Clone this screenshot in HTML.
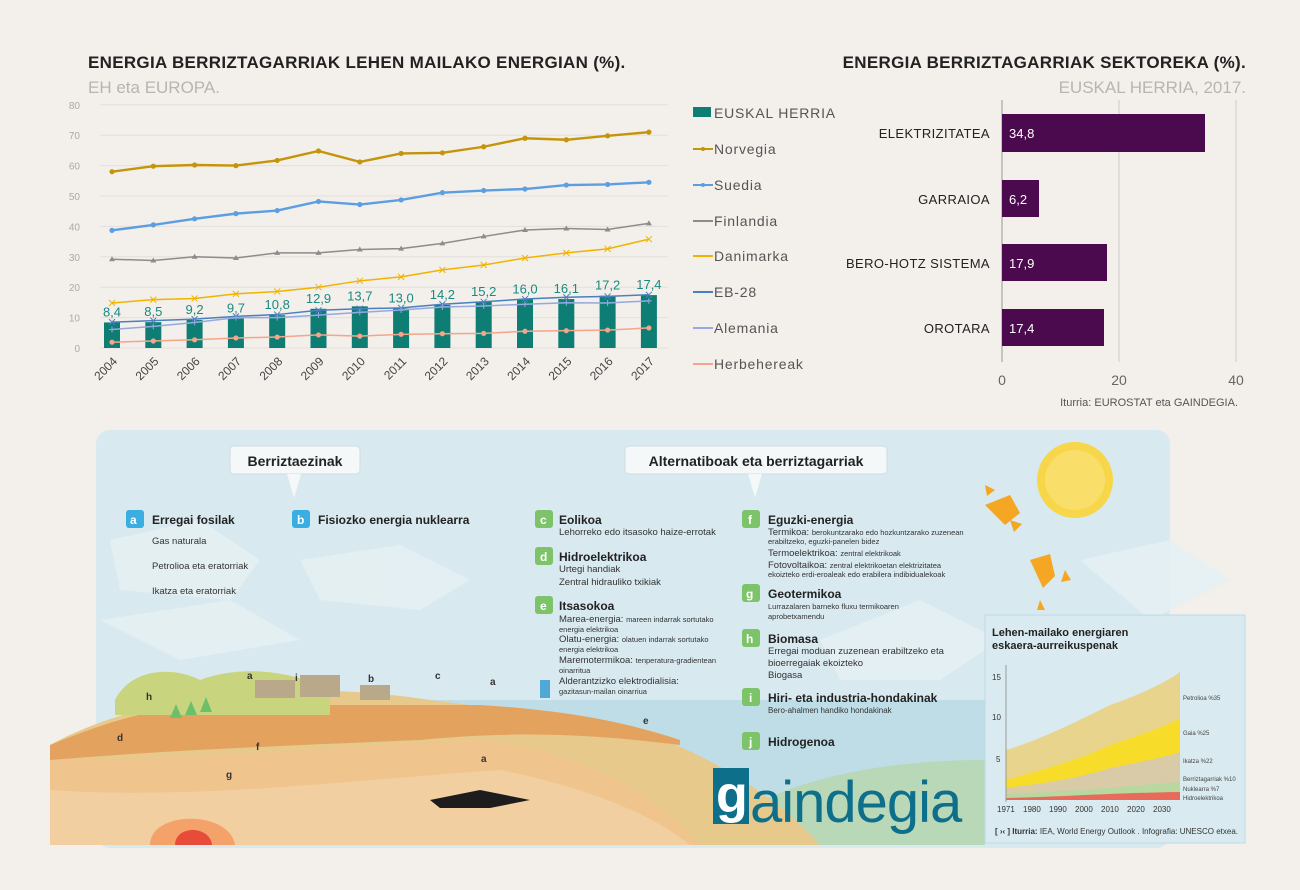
<!DOCTYPE html>
<html><head><meta charset="utf-8"><style>
html,body{margin:0;padding:0;background:#f3efeb;}
body{width:1300px;height:885px;overflow:hidden;font-family:"Liberation Sans",sans-serif;}
svg text{font-family:"Liberation Sans",sans-serif;}
</style></head><body>
<svg id="s" width="1300" height="885" viewBox="0 0 1300 885" xmlns="http://www.w3.org/2000/svg">
<rect width="1300" height="885" fill="#f3efeb"/>
<!-- titles -->
<text x="88" y="68" font-size="17" font-weight="bold" fill="#222" letter-spacing="0.3">ENERGIA BERRIZTAGARRIAK LEHEN MAILAKO ENERGIAN (%).</text>
<text x="88" y="93" font-size="17" fill="#b9b4b0">EH eta EUROPA.</text>
<text x="1246" y="68" font-size="17" font-weight="bold" fill="#222" text-anchor="end" letter-spacing="0.3">ENERGIA BERRIZTAGARRIAK SEKTOREKA (%).</text>
<text x="1246" y="93" font-size="17" fill="#b9b4b0" text-anchor="end">EUSKAL HERRIA, 2017.</text>
<g id="lc"></g>
<!-- legend -->
<g font-size="14" fill="#555" letter-spacing="0.8">
<rect x="693" y="107" width="18" height="10" fill="#0e7d74"/><text x="714" y="118">EUSKAL HERRIA</text>
<line x1="693" y1="149" x2="713" y2="149" stroke="#c4940a" stroke-width="2"/><circle cx="703" cy="149" r="2" fill="#c4940a"/><text x="714" y="154">Norvegia</text>
<line x1="693" y1="185" x2="713" y2="185" stroke="#5c9ee0" stroke-width="2"/><circle cx="703" cy="185" r="2" fill="#5c9ee0"/><text x="714" y="190">Suedia</text>
<line x1="693" y1="221" x2="713" y2="221" stroke="#8c8c8c" stroke-width="2"/><text x="714" y="226">Finlandia</text>
<line x1="693" y1="256" x2="713" y2="256" stroke="#f0b400" stroke-width="2"/><text x="714" y="261">Danimarka</text>
<line x1="693" y1="292" x2="713" y2="292" stroke="#4a7fc0" stroke-width="2"/><text x="714" y="297">EB-28</text>
<line x1="693" y1="328" x2="713" y2="328" stroke="#93a9e0" stroke-width="2"/><text x="714" y="333">Alemania</text>
<line x1="693" y1="364" x2="713" y2="364" stroke="#f4a58a" stroke-width="2"/><text x="714" y="369">Herbehereak</text>
</g>
<!-- right bar chart -->
<line x1="1002" y1="100" x2="1002" y2="362" stroke="#999" stroke-width="1"/>
<line x1="1119" y1="100" x2="1119" y2="362" stroke="#ccc" stroke-width="1"/>
<line x1="1236" y1="100" x2="1236" y2="362" stroke="#ccc" stroke-width="1"/>
<g fill="#4b0a4d">
<rect x="1002" y="114" width="203" height="38"/>
<rect x="1002" y="180" width="37" height="37"/>
<rect x="1002" y="244" width="105" height="37"/>
<rect x="1002" y="309" width="102" height="37"/>
</g>
<g font-size="13" fill="#fff"><text x="1009" y="138">34,8</text><text x="1009" y="204">6,2</text><text x="1009" y="268">17,9</text><text x="1009" y="333">17,4</text></g>
<g font-size="13" fill="#222" text-anchor="end" letter-spacing="0.4"><text x="990" y="138">ELEKTRIZITATEA</text><text x="990" y="204">GARRAIOA</text><text x="990" y="268">BERO-HOTZ SISTEMA</text><text x="990" y="333">OROTARA</text></g>
<g font-size="14" fill="#666" text-anchor="middle"><text x="1002" y="385">0</text><text x="1119" y="385">20</text><text x="1236" y="385">40</text></g>
<text x="1238" y="406" font-size="11" fill="#555" text-anchor="end">Iturria: EUROSTAT eta GAINDEGIA.</text>

<!-- bottom infographic -->
<rect x="96" y="430" width="1074" height="418" rx="14" fill="#d8e9ef"/>
<g fill="#e6f0f3" opacity="0.9">
<path d="M110 540 L200 520 L260 560 L230 600 L120 590Z"/><path d="M300 560 L400 545 L470 580 L420 610 L320 600Z"/>
<path d="M100 620 L230 600 L300 640 L180 660Z"/><path d="M820 640 L920 600 L1000 640 L940 680 L840 680Z"/>
<path d="M1080 560 L1170 540 L1230 580 L1150 620Z"/>
</g>
<!-- sea -->
<path d="M430 700 L985 700 L985 845 L430 845Z" fill="#bfdde6"/>
<!-- green land right -->
<path d="M700 845 C760 780 880 760 985 760 L985 845Z" fill="#b9d8b8"/>
<!-- land -->
<path d="M50 745 C150 690 300 680 430 700 C520 710 600 730 650 735 C720 760 780 800 820 845 L50 845Z" fill="#e7c98c"/>
<path d="M50 745 C110 720 150 710 200 705 L480 705 C560 710 620 720 680 740 L680 745 C600 735 520 730 420 740 C300 745 170 750 50 760Z" fill="#e3a35e"/>
<path d="M50 760 C200 760 360 745 470 740 C560 745 640 780 700 845 L50 845Z" fill="#f0c48d"/>
<path d="M50 790 C200 800 350 780 500 770 C600 790 660 820 690 845 L50 845Z" fill="#f2cfa0"/>
<path d="M115 700 C130 670 170 665 200 680 C240 665 290 670 330 690 L330 715 L115 715Z" fill="#c9d57e"/>
<path d="M150 845 C150 810 230 810 235 845Z" fill="#f5a26a"/><path d="M175 845 C175 825 210 825 212 845Z" fill="#e94b3a"/>
<path d="M430 800 L480 790 L530 800 L490 808 L440 808Z" fill="#1d1d1d"/>
<g fill="#6cc06a"><path d="M170 718 l6 -14 l6 14z"/><path d="M185 715 l6 -14 l6 14z"/><path d="M200 712 l6 -15 l6 15z"/></g>
<g fill="#b9a98a"><rect x="255" y="680" width="40" height="18"/><rect x="300" y="675" width="40" height="22"/><rect x="360" y="685" width="30" height="15"/></g>
<rect x="540" y="680" width="10" height="18" fill="#4fa8d6"/>
<!-- callout boxes -->
<rect x="230" y="446" width="130" height="28" rx="4" fill="#f4f8f9" stroke="#cfdde2"/>
<text x="295" y="466" font-size="14" font-weight="bold" fill="#222" text-anchor="middle">Berriztaezinak</text>
<path d="M287 474 L294 498 L301 474Z" fill="#f4f8f9"/>
<rect x="625" y="446" width="262" height="28" rx="4" fill="#f4f8f9" stroke="#cfdde2"/>
<text x="756" y="466" font-size="14" font-weight="bold" fill="#222" text-anchor="middle">Alternatiboak eta berriztagarriak</text>
<path d="M748 474 L755 498 L762 474Z" fill="#f4f8f9"/>
<g font-size="12" font-weight="bold" fill="#222">
<rect x="126" y="510" width="18" height="18" rx="3" fill="#3aaee0"/><text x="130" y="524" fill="#fff">a</text><text x="152" y="524">Erregai fosilak</text>
<rect x="292" y="510" width="18" height="18" rx="3" fill="#3aaee0"/><text x="297" y="524" fill="#fff">b</text><text x="318" y="524">Fisiozko energia nuklearra</text>
<rect x="535" y="510" width="18" height="18" rx="3" fill="#7dc36a"/><text x="540" y="524" fill="#fff">c</text><text x="559" y="524">Eolikoa</text>
<rect x="535" y="547" width="18" height="18" rx="3" fill="#7dc36a"/><text x="540" y="561" fill="#fff">d</text><text x="559" y="561">Hidroelektrikoa</text>
<rect x="535" y="596" width="18" height="18" rx="3" fill="#7dc36a"/><text x="540" y="610" fill="#fff">e</text><text x="559" y="610">Itsasokoa</text>
<rect x="742" y="510" width="18" height="18" rx="3" fill="#7dc36a"/><text x="748" y="524" fill="#fff">f</text><text x="768" y="524">Eguzki-energia</text>
<rect x="742" y="584" width="18" height="18" rx="3" fill="#7dc36a"/><text x="746" y="598" fill="#fff">g</text><text x="768" y="598">Geotermikoa</text>
<rect x="742" y="629" width="18" height="18" rx="3" fill="#7dc36a"/><text x="746" y="643" fill="#fff">h</text><text x="768" y="643">Biomasa</text>
<rect x="742" y="688" width="18" height="18" rx="3" fill="#7dc36a"/><text x="749" y="702" fill="#fff">i</text><text x="768" y="702">Hiri- eta industria-hondakinak</text>
<rect x="742" y="732" width="18" height="18" rx="3" fill="#7dc36a"/><text x="749" y="746" fill="#fff">j</text><text x="768" y="746">Hidrogenoa</text>
</g>
<g font-size="9.5" fill="#333">
<text x="152" y="544">Gas naturala</text><text x="152" y="569">Petrolioa eta eratorriak</text><text x="152" y="594">Ikatza eta eratorriak</text>
<text x="559" y="535">Lehorreko edo itsasoko haize-errotak</text>
<text x="559" y="572">Urtegi handiak</text><text x="559" y="585">Zentral hidrauliko txikiak</text>
<text x="559" y="622">Marea-energia: <tspan font-size="7.5">mareen indarrak sortutako</tspan></text><text x="559" y="632" font-size="7.5">energia elektrikoa</text>
<text x="559" y="642">Olatu-energia: <tspan font-size="7.5">olatuen indarrak sortutako</tspan></text><text x="559" y="652" font-size="7.5">energia elektrikoa</text>
<text x="559" y="663">Maremotermikoa: <tspan font-size="7.5">tenperatura-gradientean</tspan></text><text x="559" y="673" font-size="7.5">oinarritua</text>
<text x="559" y="684">Alderantzizko elektrodialisia:</text><text x="559" y="694" font-size="7.5">gazitasun-mailan oinarriua</text>
<text x="768" y="535">Termikoa: <tspan font-size="7.5">berokuntzarako edo hozkuntzarako zuzenean</tspan></text><text x="768" y="544" font-size="7.5">erabiltzeko, eguzki-panelen bidez</text>
<text x="768" y="556">Termoelektrikoa: <tspan font-size="7.5">zentral elektrikoak</tspan></text>
<text x="768" y="568">Fotovoltaikoa: <tspan font-size="7.5">zentral elektrikoetan elektrizitatea</tspan></text><text x="768" y="577" font-size="7.5">ekoizteko erdi-eroaleak edo erabilera indibidualekoak</text>
<text x="768" y="609" font-size="7.5">Lurrazalaren barneko fluxu termikoaren</text><text x="768" y="619" font-size="7.5">aprobetxamendu</text>
<text x="768" y="654">Erregai moduan zuzenean erabiltzeko eta</text><text x="768" y="666">bioerregaiak ekoizteko</text><text x="768" y="678">Biogasa</text>
<text x="768" y="713" font-size="8">Bero-ahalmen handiko hondakinak</text>
</g>
<g font-size="10" font-weight="bold" fill="#333"><text x="146" y="700">h</text><text x="247" y="679">a</text><text x="295" y="681">i</text><text x="368" y="682">b</text><text x="435" y="679">c</text><text x="490" y="685">a</text><text x="117" y="741">d</text><text x="256" y="750">f</text><text x="226" y="778">g</text><text x="481" y="762">a</text><text x="643" y="724">e</text></g>
<!-- sun -->
<circle cx="1075" cy="480" r="38" fill="#f7d64a"/><circle cx="1075" cy="480" r="30" fill="#f9df6a"/>
<g fill="#f5a623"><path d="M985 505 l25 -10 l10 18 l-15 12z"/><path d="M1030 560 l20 -6 l5 22 l-12 12z"/><path d="M985 485 l10 5 l-8 6z"/><path d="M1010 520 l12 4 l-8 8z"/><path d="M1065 570 l6 10 l-10 2z"/><path d="M1040 600 l5 10 l-8 0z"/></g>
<!-- gaindegia logo -->
<rect x="713" y="768" width="36" height="56" fill="#0e6f8a"/>
<text x="716" y="812" font-size="52" fill="#fff" font-weight="bold">g</text>
<text x="750" y="822" font-size="58" fill="#0e6f8a" letter-spacing="-1">aindegia</text>
<!-- inset chart -->
<rect x="985" y="615" width="260" height="228" fill="#d9ebf0" stroke="#bcdbe6"/>
<text x="992" y="636" font-size="11" font-weight="bold" fill="#222">Lehen-mailako energiaren</text>
<text x="992" y="649" font-size="11" font-weight="bold" fill="#222">eskaera-aurreikuspenak</text>
<path d="M1006 800 L1006 750 C1040 740 1080 720 1110 705 C1140 695 1170 680 1180 672 L1180 800Z" fill="#e9d48e"/>
<path d="M1006 800 L1006 780 C1040 770 1080 760 1110 745 C1140 735 1170 725 1180 718 L1180 800Z" fill="#f8dc2a"/>
<path d="M1006 800 L1006 788 C1040 784 1080 778 1110 768 C1140 762 1170 756 1180 752 L1180 800Z" fill="#d9cba8"/>
<path d="M1006 800 L1006 794 C1060 792 1110 788 1180 782 L1180 800Z" fill="#b8d8a0"/>
<path d="M1006 800 L1006 798 C1060 797 1110 793 1180 792 L1180 800Z" fill="#e86a5a"/>
<line x1="1006" y1="665" x2="1006" y2="802" stroke="#888" stroke-width="0.8"/>
<g font-size="8" fill="#333"><text x="992" y="680">15</text><text x="992" y="720">10</text><text x="996" y="762">5</text>
<text x="997" y="812">1971</text><text x="1023" y="812">1980</text><text x="1049" y="812">1990</text><text x="1075" y="812">2000</text><text x="1101" y="812">2010</text><text x="1127" y="812">2020</text><text x="1153" y="812">2030</text></g>
<g font-size="6" fill="#444"><text x="1183" y="700">Petrolioa %35</text><text x="1183" y="735">Gaia %25</text><text x="1183" y="763">Ikatza %22</text><text x="1183" y="781">Berriztagarriak %10</text><text x="1183" y="791">Nuklearra %7</text><text x="1183" y="800">Hidroelektrikoa</text></g>
<text x="1238" y="834" font-size="8" fill="#333" text-anchor="end"><tspan font-weight="bold">[ ›‹ ] Iturria:</tspan> IEA, World Energy Outlook . Infografia: UNESCO etxea.</text>
</svg>
<script>
(function(){
var g=document.getElementById('lc'),ns='http://www.w3.org/2000/svg',h='';
function X(i){return 112+i*41.3;}function Y(v){return 348-v*3.04;}
for(var v=0;v<=80;v+=10){h+='<line x1="100" x2="668" y1="'+Y(v)+'" y2="'+Y(v)+'" stroke="#e4dfda" stroke-width="1"/>';h+='<text x="80" y="'+(Y(v)+4)+'" font-size="10" fill="#aaa" text-anchor="end">'+v+'</text>';}
var eh=[8.4,8.5,9.2,9.7,10.8,12.9,13.7,13.0,14.2,15.2,16.0,16.1,17.2,17.4];
for(var i=0;i<14;i++){h+='<rect x="'+(X(i)-8)+'" y="'+Y(eh[i])+'" width="16" height="'+(348-Y(eh[i]))+'" fill="#0e7d74"/>';
h+='<text x="'+X(i)+'" y="'+(Y(eh[i])-6)+'" font-size="13" fill="#1a8a80" text-anchor="middle">'+eh[i].toFixed(1).replace('.',',')+'</text>';
h+='<text transform="translate('+(X(i)+6)+',362) rotate(-45)" font-size="12" fill="#444" text-anchor="end">'+(2004+i)+'</text>';}
var S=[["#c4940a",2.4,[58,59.8,60.2,60,61.7,64.8,61.2,64,64.2,66.2,69,68.5,69.8,71],'c'],
["#5c9ee0",2.4,[38.7,40.5,42.5,44.2,45.2,48.2,47.2,48.7,51.1,51.8,52.3,53.6,53.8,54.5],'c'],
["#8c8c8c",1.5,[29.2,28.8,30,29.6,31.3,31.3,32.4,32.7,34.4,36.7,38.8,39.3,39,41],'t'],
["#f0b400",1.5,[14.8,15.9,16.3,17.8,18.6,20,22.1,23.4,25.7,27.3,29.6,31.3,32.6,35.8],'x'],
["#4a7fc0",1.5,[8.5,9,9.5,10.4,11,12.4,12.9,13.2,14.4,15.2,16.1,16.7,17,17.5],'x'],
["#93a9e0",1.5,[6.1,7.1,8.4,10,10,10.8,11.7,12.5,13.5,13.8,14.4,14.9,14.8,15.5],'p'],
["#f4a58a",1.5,[1.9,2.3,2.7,3.3,3.6,4.3,3.9,4.5,4.7,4.8,5.5,5.7,5.9,6.6],'c']];
S.forEach(function(s){var p=s[2].map(function(v,i){return X(i)+','+Y(v)}).join(' ');
h+='<polyline points="'+p+'" fill="none" stroke="'+s[0]+'" stroke-width="'+s[1]+'"/>';
s[2].forEach(function(v,i){var x=X(i),y=Y(v);
if(s[3]=='c')h+='<circle cx="'+x+'" cy="'+y+'" r="2.6" fill="'+s[0]+'"/>';
else if(s[3]=='t')h+='<path d="M'+(x-3)+' '+(y+2)+' L'+x+' '+(y-3)+' L'+(x+3)+' '+(y+2)+'Z" fill="'+s[0]+'"/>';
else if(s[3]=='x')h+='<path d="M'+(x-3)+' '+(y-3)+' L'+(x+3)+' '+(y+3)+' M'+(x+3)+' '+(y-3)+' L'+(x-3)+' '+(y+3)+'" stroke="'+s[0]+'" stroke-width="1"/>';
else h+='<path d="M'+(x-3)+' '+y+' L'+(x+3)+' '+y+' M'+x+' '+(y-3)+' L'+x+' '+(y+3)+'" stroke="'+s[0]+'" stroke-width="1"/>';});});
g.innerHTML=h;})();
</script>
</body></html>
